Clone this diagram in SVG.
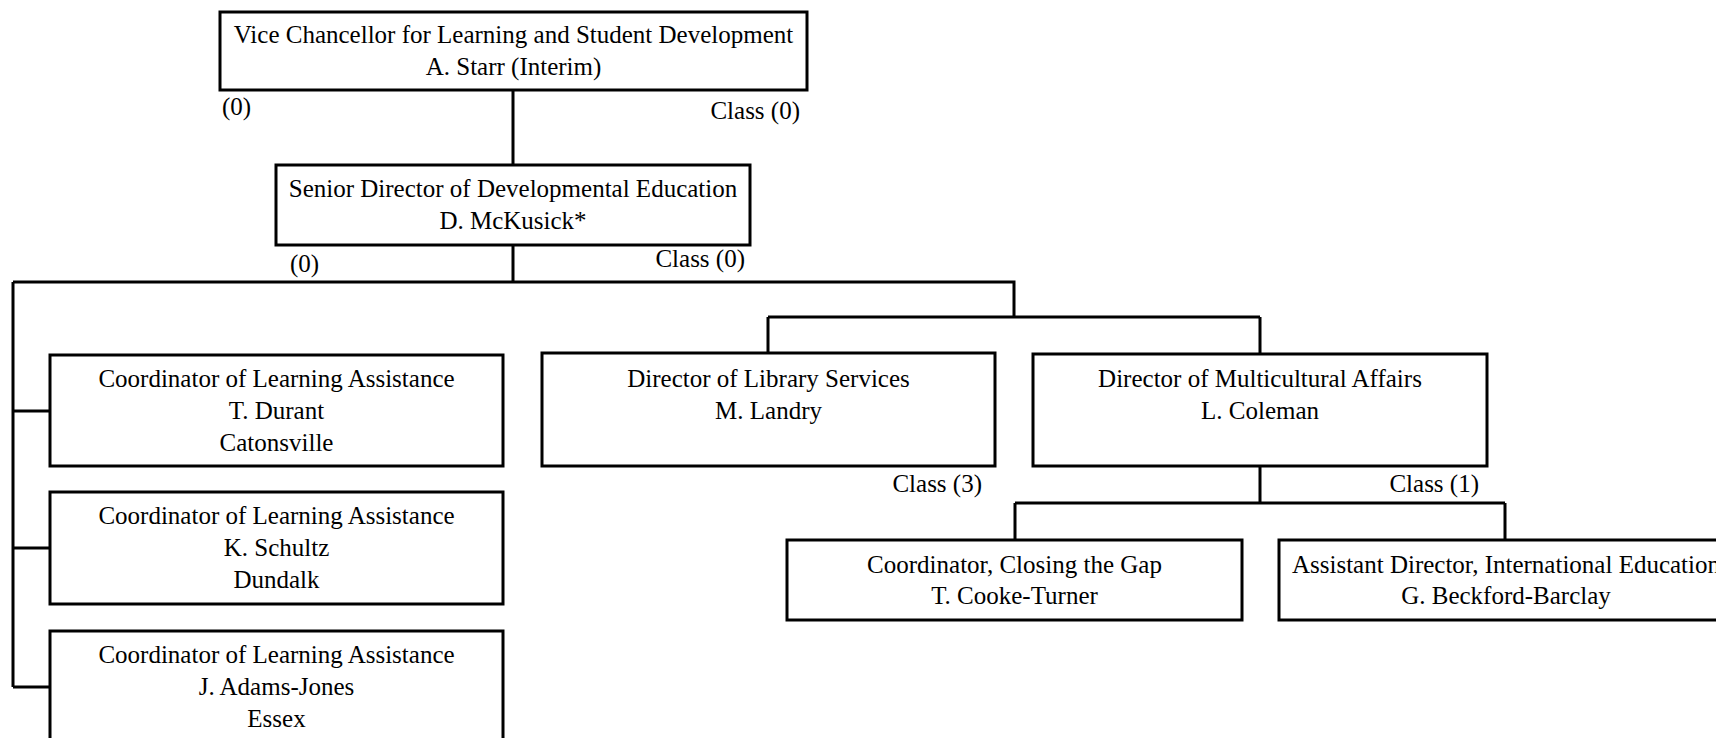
<svg xmlns="http://www.w3.org/2000/svg" width="1716" height="738" viewBox="0 0 1716 738">
<style>
.box{fill:#fff;stroke:#000;stroke-width:3}
.ln{fill:none;stroke:#000;stroke-width:3}
text{font-family:"Liberation Serif","Times New Roman",serif;font-size:25px;fill:#000}
.c{text-anchor:middle}
.e{text-anchor:end}
</style>
<rect width="1716" height="738" fill="#fff"/>
<g id="connectors">
<path class="ln" d="M513 90V165M513 245V282M13 282H1014V317M13 282V687M13 411H50M13 548H50M13 687H50M768 317H1260M768 317V353M1260 317V354M1260 466V503M1015 503H1505M1015 503V540M1505 503V540"/>
</g>
<g id="vc">
<rect class="box" x="220" y="12" width="587" height="78"/>
<text class="c" x="513.5" y="43">Vice Chancellor for Learning and Student Development</text>
<text class="c" x="513.5" y="75">A. Starr (Interim)</text>
<text x="222" y="115">(0)</text>
<text class="e" x="800" y="119">Class (0)</text>
</g>
<g id="sd">
<rect class="box" x="276" y="165" width="474" height="80"/>
<text class="c" x="513" y="197">Senior Director of Developmental Education</text>
<text class="c" x="513" y="229">D. McKusick*</text>
<text x="290" y="272">(0)</text>
<text class="e" x="745" y="267">Class (0)</text>
</g>
<g id="cla1">
<rect class="box" x="50" y="355" width="453" height="111"/>
<text class="c" x="276.5" y="387">Coordinator of Learning Assistance</text>
<text class="c" x="276.5" y="419">T. Durant</text>
<text class="c" x="276.5" y="451">Catonsville</text>
</g>
<g id="cla2">
<rect class="box" x="50" y="492" width="453" height="112"/>
<text class="c" x="276.5" y="524">Coordinator of Learning Assistance</text>
<text class="c" x="276.5" y="556">K. Schultz</text>
<text class="c" x="276.5" y="588">Dundalk</text>
</g>
<g id="cla3">
<rect class="box" x="50" y="631" width="453" height="112"/>
<text class="c" x="276.5" y="663">Coordinator of Learning Assistance</text>
<text class="c" x="276.5" y="695">J. Adams-Jones</text>
<text class="c" x="276.5" y="727">Essex</text>
</g>
<g id="lib">
<rect class="box" x="542" y="353" width="453" height="113"/>
<text class="c" x="768.5" y="387">Director of Library Services</text>
<text class="c" x="768.5" y="419">M. Landry</text>
<text class="e" x="982" y="492">Class (3)</text>
</g>
<g id="mca">
<rect class="box" x="1033" y="354" width="454" height="112"/>
<text class="c" x="1260" y="387">Director of Multicultural Affairs</text>
<text class="c" x="1260" y="419">L. Coleman</text>
<text class="e" x="1479" y="492">Class (1)</text>
</g>
<g id="ctg">
<rect class="box" x="787" y="540" width="455" height="80"/>
<text class="c" x="1014.5" y="573">Coordinator, Closing the Gap</text>
<text class="c" x="1014.5" y="604">T. Cooke-Turner</text>
</g>
<g id="intl">
<rect class="box" x="1279" y="540" width="454" height="80"/>
<text class="c" x="1506" y="573">Assistant Director, International Education</text>
<text class="c" x="1506" y="604">G. Beckford-Barclay</text>
</g>
</svg>
